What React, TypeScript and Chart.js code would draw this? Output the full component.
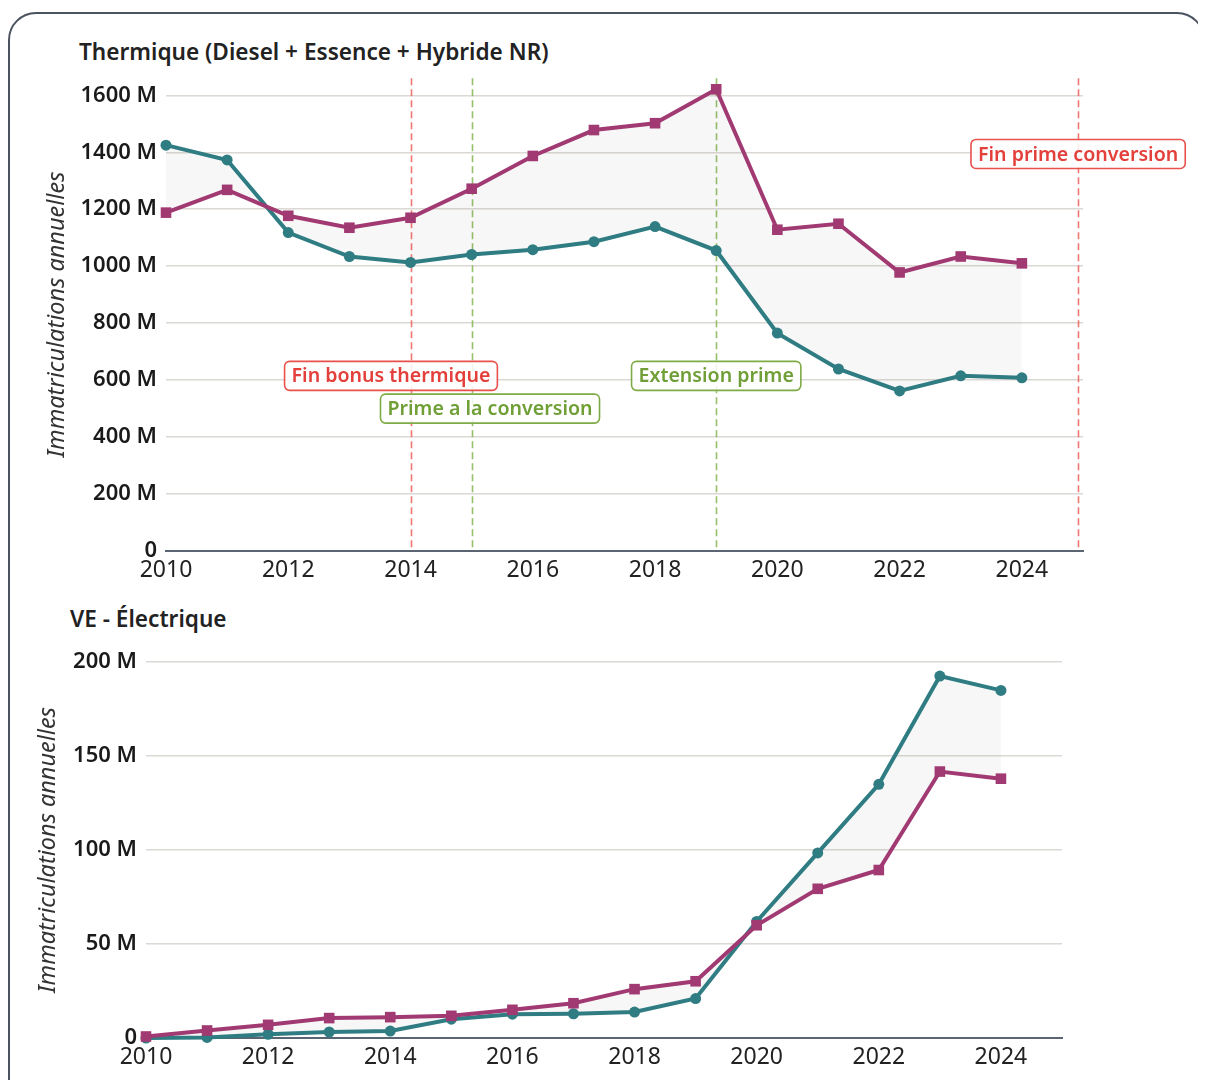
import React, { useEffect, useRef } from "react";
import { Chart, registerables } from "chart.js";

Chart.register(...registerables);

// ---------- data ----------
const years = [2010, 2011, 2012, 2013, 2014, 2015, 2016, 2017, 2018, 2019, 2020, 2021, 2022, 2023, 2024];

// Thermique (magenta squares / teal circles)
const thermMagenta = [1188, 1268, 1177, 1135, 1170, 1272, 1387, 1478, 1502, 1621, 1128, 1149, 978, 1034, 1010];
const thermTeal = [1425, 1373, 1118, 1034, 1013, 1041, 1058, 1086, 1139, 1055, 765, 639, 562, 615, 608];

// VE - Électrique
const elecMagenta = [0.8, 4, 7, 10.6, 11.1, 11.8, 15, 18.5, 26, 30.2, 60, 79.4, 89.4, 141.8, 138];
const elecTeal = [0, 0.3, 2, 3.2, 3.7, 10, 12.7, 12.9, 13.8, 21, 62, 98.5, 135, 192.6, 185];

const xTickYears = [2010, 2012, 2014, 2016, 2018, 2020, 2022, 2024];
const thermYTicks = [0, 200, 400, 600, 800, 1000, 1200, 1400, 1600];
const elecYTicks = [0, 50, 100, 150, 200];

// events (vertical dashed lines + labels)
const eventYears = [2014, 2015, 2019, 2024.92];
const eventKinds = ["red", "green", "green", "red"];
const eventLabels = ["Fin bonus thermique", "Prime a la conversion", "Extension prime", "Fin prime conversion"];
const eventLabelX = [2013.68, 2015.3, 2019, 2024.92];
const eventLabelY = [615, 500, 615, 1394];

// ---------- style ----------
const FONT = "'Noto Sans', 'Open Sans', sans-serif";
const MAGENTA = "#a13a72";
const TEAL = "#2f7d83";
const FILL = "rgba(0,0,0,0.03)";
const GRID = "#dcd8d3";
const AXIS = "#5b6472";
const EV = {
  red: { line: "rgba(236, 96, 90, 0.85)", text: "#e4403b", border: "#e8514c" },
  green: { line: "rgba(140, 185, 90, 0.9)", text: "#6f9f36", border: "#7eab46" },
};

const eventsPlugin = {
  id: "events",
  beforeDatasetsDraw(chart: any) {
    const { ctx, chartArea, scales } = chart;
    const x = scales.x;
    ctx.save();
    eventYears.forEach((yr, i) => {
      const px = Math.round(x.getPixelForValue(yr)) + 0.5;
      ctx.strokeStyle = (EV as any)[eventKinds[i]].line;
      ctx.lineWidth = 1.6;
      ctx.setLineDash([7, 4]);
      ctx.beginPath();
      ctx.moveTo(px, chartArea.top);
      ctx.lineTo(px, chartArea.bottom);
      ctx.stroke();
    });
    ctx.restore();
  },
  afterDatasetsDraw(chart: any) {
    const { ctx, scales } = chart;
    const x = scales.x;
    const y = scales.y;
    ctx.save();
    ctx.font = `600 19.6px ${FONT}`;
    ctx.textBaseline = "middle";
    ctx.textAlign = "center";
    eventLabels.forEach((txt, i) => {
      const c = (EV as any)[eventKinds[i]];
      const cx = x.getPixelForValue(eventLabelX[i]);
      const cy = y.getPixelForValue(eventLabelY[i]);
      const w = ctx.measureText(txt).width + 14;
      const h = 29;
      const l = cx - w / 2;
      const t = cy - h / 2;
      ctx.beginPath();
      (ctx as any).roundRect(l, t, w, h, 5);
      ctx.fillStyle = "rgba(255,255,255,0.85)";
      ctx.fill();
      ctx.lineWidth = 1.6;
      ctx.strokeStyle = c.border;
      ctx.setLineDash([]);
      ctx.stroke();
      ctx.fillStyle = c.text;
      ctx.fillText(txt, cx, cy + 1);
    });
    ctx.restore();
  },
};

function makeConfig(
  magenta: number[],
  teal: number[],
  yMax: number,
  yTicks: number[],
  yWidth: number,
  padRight: number,
  padTop: number,
  withEvents: boolean
): any {
  return {
    type: "line",
    data: {
      datasets: [
        {
          data: years.map((yr, i) => ({ x: yr, y: magenta[i] })),
          borderColor: MAGENTA,
          backgroundColor: MAGENTA,
          pointBackgroundColor: MAGENTA,
          pointBorderColor: MAGENTA,
          pointBorderWidth: 0,
          pointStyle: "rect",
          pointRadius: 7.5,
          borderWidth: 4,
          tension: 0,
          fill: false,
          clip: false,
        },
        {
          data: years.map((yr, i) => ({ x: yr, y: teal[i] })),
          borderColor: TEAL,
          backgroundColor: FILL,
          pointBackgroundColor: TEAL,
          pointBorderColor: TEAL,
          pointBorderWidth: 0,
          pointStyle: "circle",
          pointRadius: 5.5,
          borderWidth: 4,
          tension: 0,
          fill: "-1",
          clip: false,
        },
      ],
    },
    options: {
      animation: false,
      responsive: false,
      maintainAspectRatio: false,
      devicePixelRatio: 1,
      layout: { padding: { top: padTop, right: padRight, bottom: 0, left: 0 } },
      plugins: {
        legend: { display: false },
        tooltip: { enabled: false },
        title: { display: false },
      },
      scales: {
        x: {
          type: "linear",
          min: 2010,
          max: 2025,
          afterBuildTicks: (axis: any) => {
            axis.ticks = xTickYears.map((v) => ({ value: v }));
          },
          afterFit: (s: any) => {
            s.height = 40;
          },
          ticks: {
            callback: (v: any) => String(v),
            font: { family: FONT, size: 23 },
            color: "#222",
            padding: 6,
            maxRotation: 0,
            autoSkip: false,
          },
          grid: { display: false, drawTicks: false },
          border: { display: true, color: AXIS, width: 2 },
        },
        y: {
          min: 0,
          max: yMax,
          afterBuildTicks: (axis: any) => {
            axis.ticks = yTicks.map((v) => ({ value: v }));
          },
          afterFit: (s: any) => {
            s.width = yWidth;
          },
          ticks: {
            callback: (v: any) => (v === 0 ? "0" : `${v} M`),
            font: { family: FONT, size: 22, weight: "600" },
            color: "#1a1a1a",
            padding: 9,
          },
          grid: { color: GRID, lineWidth: 1.5, drawTicks: false },
          border: { display: false },
          title: {
            display: true,
            text: "Immatriculations annuelles",
            font: { family: FONT, size: 23.5, style: "italic" },
            color: "#333",
            padding: { top: 0, bottom: 0 },
          },
        },
      },
    },
    plugins: withEvents ? [eventsPlugin] : [],
  };
}

function ChartCanvas(props: {
  left: number;
  top: number;
  width: number;
  height: number;
  config: () => any;
}) {
  const ref = useRef<HTMLCanvasElement | null>(null);
  useEffect(() => {
    if (!ref.current) return;
    const chart = new Chart(ref.current, props.config());
    return () => chart.destroy();
  }, []);
  return (
    <canvas
      ref={ref}
      width={props.width}
      height={props.height}
      style={{
        position: "absolute",
        left: props.left - 8,
        top: props.top - 8,
        width: props.width,
        height: props.height,
      }}
    />
  );
}

const titleStyle: React.CSSProperties = {
  position: "absolute",
  fontFamily: FONT,
  fontWeight: 600,
  fontSize: 22.6,
  lineHeight: "26px",
  color: "#222",
  whiteSpace: "nowrap",
};

export default function App() {
  return (
    <div style={{ position: "relative", height: 1072, overflow: "hidden" }}>
      <div
        style={{
          position: "absolute",
          left: 0,
          top: 4,
          width: 1197,
          height: 1140,
          border: "2px solid #4b5260",
          borderRadius: 28,
          boxSizing: "border-box",
        }}
      />
      <div style={{ ...titleStyle, left: 79 - 8, top: 52 - 13 - 8 }}>
        Thermique (Diesel + Essence + Hybride NR)
      </div>
      <ChartCanvas
        left={43}
        top={56}
        width={1152}
        height={535}
        config={() => makeConfig(thermMagenta, thermTeal, 1660, thermYTicks, 123, 112, 19, true)}
      />
      <div style={{ ...titleStyle, left: 70 - 8, top: 619 - 13 - 8 }}>VE - Électrique</div>
      <ChartCanvas
        left={34}
        top={640}
        width={1048}
        height={438}
        config={() => makeConfig(elecMagenta, elecTeal, 200, elecYTicks, 112, 20, 20, false)}
      />
    </div>
  );
}
